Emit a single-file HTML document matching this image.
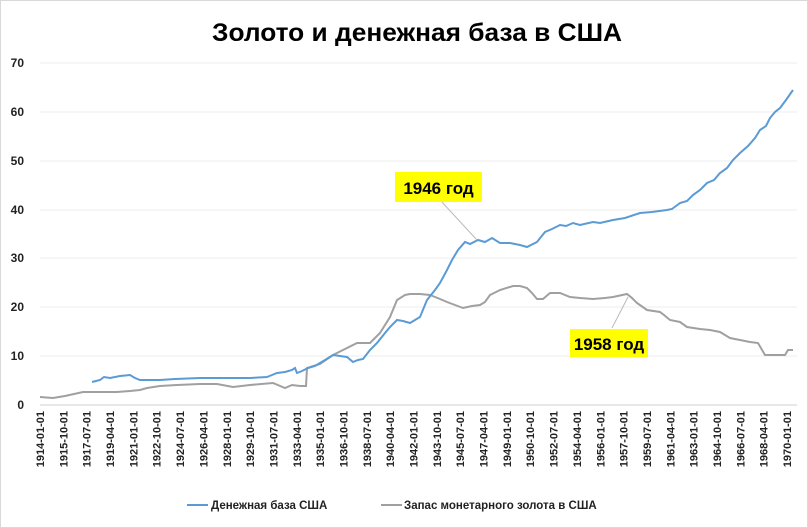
<!DOCTYPE html>
<html><head><meta charset="utf-8"><style>
body{margin:0;background:#fff}
svg{display:block;font-family:"Liberation Sans","DejaVu Sans",sans-serif}
</style></head><body>
<svg width="808" height="528" viewBox="0 0 808 528" xmlns="http://www.w3.org/2000/svg">
<rect x="0.5" y="0.5" width="807" height="527" fill="#fff" stroke="#d9d9d9"/>
<text x="417" y="41" text-anchor="middle" font-size="25" font-weight="bold" textLength="410" lengthAdjust="spacingAndGlyphs" fill="#000">Золото и денежная база в США</text>
<g stroke="#ececec" stroke-width="1">
<line x1="40" x2="797" y1="63" y2="63"/><line x1="40" x2="797" y1="112" y2="112"/>
<line x1="40" x2="797" y1="161" y2="161"/><line x1="40" x2="797" y1="210" y2="210"/>
<line x1="40" x2="797" y1="258" y2="258"/><line x1="40" x2="797" y1="307" y2="307"/>
<line x1="40" x2="797" y1="356" y2="356"/>
</g>
<line x1="40" x2="797" y1="405" y2="405" stroke="#d0d0d0"/>
<g font-size="12" font-weight="bold" fill="#222" text-anchor="end">
<text x="24" y="67">70</text><text x="24" y="116">60</text><text x="24" y="165">50</text>
<text x="24" y="214">40</text><text x="24" y="262">30</text><text x="24" y="311">20</text>
<text x="24" y="360">10</text><text x="24" y="409">0</text>
</g>
<g font-size="11" font-weight="bold" fill="#222" text-anchor="end" id="xl"></g>
<polyline fill="none" stroke="#a0a0a0" stroke-width="2" points="40,397 53,398 65,396 83,392 100,392 117,392 130,391 140,390 147,388 160,386 177,385 200,384 217,384 233,387 250,385 273,383 285,388 292,385 300,386 306,386 307,368 320,364 333,355 347,348 357,343 370,343 380,333 390,317 397,300 405,295 410,294 420,294 430,295 440,299 447,302 455,305 463,308 472,306 480,305 485,302 490,295 500,290 513,286 520,286 527,288 532,293 537,299 543,299 550,293 560,293 570,297 580,298 593,299 605,298 613,297 627,294 632,298 637,303 647,310 660,312 664,315 670,320 680,322 687,327 700,329 710,330 720,332 725,335 730,338 740,340 750,342 758,343 765,355 785,355 788,350 793,350"/>
<polyline fill="none" stroke="#5b9bd5" stroke-width="2" points="92,382 100,380 104,377 110,378 120,376 130,375 135,378 140,380 147,380 160,380 175,379 200,378 230,378 250,378 267,377 272,375 277,373 285,372 292,370 295,368 297,373 302,371 308,368 315,366 325,360 333,355 340,356 347,357 353,362 358,360 363,359 370,350 377,343 385,333 390,327 397,320 403,321 410,323 415,320 420,317 427,300 435,290 440,283 447,270 452,260 458,250 465,242 470,244 478,240 485,242 492,238 500,243 510,243 520,245 527,247 537,242 545,232 552,229 560,225 566,226 573,223 580,225 593,222 600,223 613,220 625,218 640,213 652,212 667,210 672,209 680,203 687,201 693,195 700,190 707,183 714,180 720,173 727,168 733,160 740,153 748,146 755,138 760,130 766,126 770,118 775,112 780,108 786,100 793,90"/>
<line x1="440" y1="200" x2="477" y2="240" stroke="#bbb" stroke-width="1"/>
<line x1="612" y1="328" x2="628" y2="297" stroke="#bbb" stroke-width="1"/>
<rect x="395" y="172" width="87" height="30" fill="#ffff00"/>
<text x="438.5" y="194" text-anchor="middle" font-size="17" font-weight="bold" fill="#000">1946 год</text>
<rect x="570" y="329" width="78" height="28" fill="#ffff00"/>
<text x="609" y="350" text-anchor="middle" font-size="17" font-weight="bold" fill="#000">1958 год</text>
<line x1="187" x2="208" y1="505" y2="505" stroke="#5b9bd5" stroke-width="2"/>
<text x="211" y="509" font-size="11.5" font-weight="bold" fill="#222">Денежная база США</text>
<line x1="381" x2="402" y1="505" y2="505" stroke="#a0a0a0" stroke-width="2"/>
<text x="404" y="509" font-size="11.5" font-weight="bold" fill="#222">Запас монетарного золота в США</text>
</svg>
<script>
var labs=["1914-01-01","1915-10-01","1917-07-01","1919-04-01","1921-01-01","1922-10-01","1924-07-01","1926-04-01","1928-01-01","1929-10-01","1931-07-01","1933-04-01","1935-01-01","1936-10-01","1938-07-01","1940-04-01","1942-01-01","1943-10-01","1945-07-01","1947-04-01","1949-01-01","1950-10-01","1952-07-01","1954-04-01","1956-01-01","1957-10-01","1959-07-01","1961-04-01","1963-01-01","1964-10-01","1966-07-01","1968-04-01","1970-01-01"];
var g=document.getElementById('xl'),ns="http://www.w3.org/2000/svg";
var step=(787-40)/(labs.length-1);
labs.forEach(function(l,i){var x=40+i*step+4;var t=document.createElementNS(ns,'text');t.setAttribute('transform','translate('+x+',411) rotate(-90)');t.textContent=l;g.appendChild(t);});
</script>
</body></html>
